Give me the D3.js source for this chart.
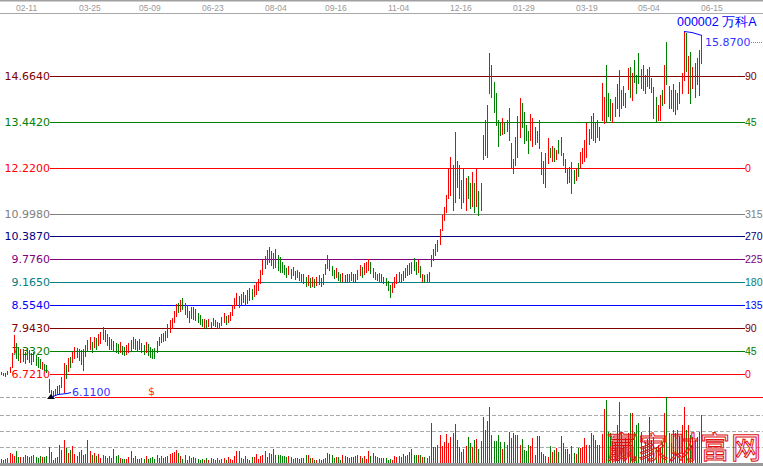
<!DOCTYPE html>
<html><head><meta charset="utf-8">
<script src="https://cdn.jsdelivr.net/npm/d3@7"></script>
<style>body{margin:0;background:#fff;overflow:hidden}svg{display:block}</style>
</head><body>
<svg id="c" width="763" height="466"></svg>
<script>
// ---- data ----
const high=[
6.78,6.76,6.75,6.80,6.92,7.28,7.76,7.55,7.45,7.40,
7.38,7.30,7.42,7.35,7.28,7.32,7.22,7.18,7.12,7.05,
7.00,6.95,6.58,6.30,6.26,6.32,6.40,6.42,6.64,7.02,
6.95,7.15,7.18,7.30,7.45,7.42,7.40,7.35,7.38,7.50,
7.62,7.70,7.58,7.72,7.68,7.78,7.85,7.98,7.90,7.80,
7.72,7.66,7.60,7.55,7.52,7.58,7.48,7.45,7.50,7.55,
7.62,7.70,7.65,7.60,7.66,7.55,7.50,7.58,7.52,7.45,
7.40,7.42,7.60,7.72,7.78,7.82,7.88,8.05,8.15,8.22,
8.40,8.58,8.62,8.70,8.74,8.62,8.55,8.40,8.52,8.50,
8.45,8.35,8.30,8.20,8.18,8.15,8.20,8.12,8.22,8.16,
8.10,8.08,8.25,8.35,8.28,8.30,8.38,8.55,8.75,8.88,
8.80,8.85,8.90,8.82,8.95,9.02,8.98,9.10,9.18,9.25,
9.50,9.76,9.88,10.02,10.11,10.00,9.95,10.05,9.90,9.85,
9.70,9.62,9.55,9.60,9.52,9.58,9.48,9.50,9.45,9.40,
9.38,9.32,9.35,9.28,9.30,9.25,9.30,9.35,9.28,9.38,
9.65,9.89,9.80,9.60,9.50,9.55,9.45,9.40,9.42,9.35,
9.40,9.38,9.45,9.40,9.38,9.50,9.62,9.58,9.68,9.72,
9.79,9.70,9.55,9.45,9.40,9.42,9.38,9.32,9.28,9.20,
9.10,9.15,9.30,9.38,9.45,9.40,9.48,9.55,9.62,9.68,
9.72,9.81,9.70,9.75,9.60,9.40,9.35,9.38,9.45,9.90,
10.05,10.20,10.29,10.60,10.95,11.17,11.50,12.20,12.50,12.30,
13.17,12.40,12.30,11.90,12.20,11.95,12.00,11.80,12.10,11.80,
12.20,11.60,11.80,13.10,13.50,13.89,15.28,14.95,14.50,14.20,
13.50,13.40,13.55,13.45,13.50,13.81,12.88,12.45,13.05,13.60,
14.08,13.95,13.70,13.35,13.20,13.65,13.55,13.30,13.20,13.49,
12.65,12.40,12.61,13.00,12.75,12.80,12.75,12.70,12.95,13.04,
12.60,12.45,12.20,12.25,12.37,12.15,12.20,12.35,12.65,12.75,
12.95,13.40,13.25,13.60,13.68,13.40,13.50,13.30,14.48,14.10,
14.95,14.20,14.05,13.95,14.10,14.45,14.82,14.30,14.40,14.20,
14.88,14.90,14.75,15.09,14.70,15.28,14.85,14.95,14.70,14.85,
14.90,14.60,14.37,14.10,13.90,14.15,14.30,14.95,15.57,14.40,
14.30,14.45,14.30,14.20,14.50,14.75,15.87,15.81,15.20,15.30,
14.90,15.00,15.15,15.36,15.76];
const low=[
6.72,6.70,6.68,6.72,6.78,6.90,7.30,7.15,7.10,7.05,
7.08,7.02,7.12,7.05,7.00,7.06,6.95,6.92,6.88,6.85,
6.82,6.78,6.25,6.11,6.14,6.16,6.20,6.22,6.38,6.24,
6.62,6.80,6.90,7.05,7.15,7.18,7.10,6.98,6.83,7.20,
7.35,7.40,7.32,7.45,7.40,7.50,7.55,7.65,7.60,7.50,
7.40,7.38,7.35,7.30,7.28,7.30,7.25,7.22,7.26,7.30,
7.35,7.42,7.38,7.35,7.40,7.30,7.26,7.30,7.22,7.18,
7.15,7.16,7.32,7.50,7.58,7.60,7.62,7.70,7.85,7.95,
8.10,8.28,8.38,8.40,8.45,8.32,8.25,8.12,8.22,8.20,
8.15,8.10,8.05,8.00,7.98,7.96,8.00,7.98,8.02,7.99,
7.95,7.94,8.02,8.10,8.06,8.10,8.15,8.30,8.48,8.55,
8.52,8.60,8.65,8.55,8.62,8.70,8.72,8.80,8.85,8.95,
9.15,9.40,9.55,9.65,9.70,9.62,9.55,9.58,9.50,9.44,
9.45,9.40,9.30,9.38,9.28,9.35,9.25,9.30,9.22,9.20,
9.15,9.08,9.10,9.05,9.08,9.04,9.10,9.12,9.08,9.12,
9.38,9.55,9.50,9.35,9.28,9.30,9.22,9.18,9.20,9.17,
9.18,9.20,9.22,9.20,9.18,9.25,9.35,9.32,9.40,9.45,
9.50,9.42,9.32,9.25,9.22,9.20,9.18,9.15,9.10,8.95,
8.78,8.90,9.05,9.15,9.20,9.18,9.22,9.30,9.35,9.38,
9.42,9.50,9.40,9.45,9.31,9.20,9.17,9.18,9.20,9.60,
9.76,9.90,10.00,10.20,10.55,10.83,11.05,11.40,11.50,11.10,
11.30,11.70,11.40,11.15,11.30,11.10,11.40,11.15,11.20,11.05,
11.20,10.96,11.10,12.45,12.55,12.50,14.21,14.10,13.70,13.35,
12.80,13.10,13.12,13.15,13.20,12.96,12.24,12.08,12.30,12.50,
13.04,13.30,12.88,12.95,12.61,12.95,12.80,12.85,12.90,12.75,
12.05,11.80,11.71,12.35,12.50,12.40,12.40,12.45,12.60,12.55,
12.30,12.10,11.80,11.85,11.55,11.80,11.88,12.00,12.20,12.35,
12.40,12.50,12.85,13.00,12.95,12.90,13.05,12.95,13.49,13.41,
13.45,13.60,13.50,13.45,13.60,13.80,13.60,13.80,13.90,13.85,
14.32,14.10,14.02,14.50,14.21,14.48,14.35,14.30,14.21,14.40,
14.35,14.25,13.55,13.44,13.50,13.50,13.90,13.95,14.45,13.80,
13.80,13.72,13.66,13.78,13.95,14.20,14.56,14.80,14.20,13.95,
14.35,14.10,14.45,14.16,15.01];
// 1 = up day (red), 0 = down day (green)
const upDay=[
0,1,0,1,1,1,1,0,0,1, 0,0,1,0,0,1,0,0,0,1, 0,0,0,0,1,1,0,0,0,1, 0,1,0,1,1,0,0,0,1,1,
1,1,0,1,0,1,1,1,0,0, 0,0,1,0,0,1,0,0,1,1, 1,1,0,0,1,0,0,1,0,0, 0,0,1,1,1,0,1,1,1,1,
1,1,0,1,0,0,0,0,1,0, 1,0,0,0,1,0,1,0,1,0, 1,0,1,1,0,1,1,1,1,1, 0,1,0,0,1,1,0,1,1,1,
1,1,1,1,1,0,1,0,0,0, 0,0,0,1,0,1,0,1,0,0, 0,0,1,0,1,0,1,1,0,1, 1,1,0,0,0,1,0,0,1,0,
0,1,1,0,0,1,1,0,1,1, 1,0,0,0,0,1,0,0,0,0, 0,1,1,1,1,0,1,1,1,0, 1,0,0,1,0,1,0,1,1,1,
1,1,0,1,1,1,1,1,1,0, 0,1,0,0,1,1,0,0,1,0, 1,0,1,1,1,1,1,0,0,0, 0,0,1,0,1,1,0,1,1,1,
1,0,0,0,0,1,1,1,0,0, 1,0,1,1,0,1,0,1,0,0, 0,0,0,1,1,0,1,0,1,1, 1,1,0,1,1,0,1,0,1,1,
0,0,0,1,1,1,1,0,1,0, 1,0,1,0,0,0,1,0,0,1, 0,1,0,0,1,1,0,1,0,1, 1,0,1,1,0,1,1,0,1,0,
1,0,1,0,1];
const volume=[
4,3,4,5,10,9,7,12,6,6, 6,8,7,6,7,8,6,5,7,6, 6,7,16,11,3,5,6,18,13,23,
15,10,13,17,9,7,11,13,8,9, 23,12,8,10,7,9,5,8,7,5, 7,5,14,7,8,5,4,4,4,6,
12,5,7,4,4,5,4,7,4,5, 6,4,8,5,7,5,6,7,9,10, 11,13,10,7,4,8,3,7,5,6,
5,4,3,4,3,5,3,5,4,3, 5,3,4,5,3,6,4,3,7,12, 12,5,4,7,4,3,6,6,9,4,
7,8,12,6,10,9,14,8,8,8, 7,7,6,7,6,4,5,5,4,5, 5,8,8,5,5,3,3,4,3,4,
5,10,9,8,5,6,6,3,8,7, 6,5,6,6,7,8,7,5,7,4, 12,7,10,7,6,5,5,5,5,3,
4,3,7,6,7,6,9,7,8,11, 14,8,8,8,8,6,6,5,7,40, 16,16,18,28,17,21,29,20,26,30,
39,23,16,11,14,17,26,20,16,23, 24,14,22,46,33,42,56,28,22,22, 28,21,14,21,18,31,25,30,28,28,
18,24,13,12,18,17,25,8,27,27, 11,9,7,6,17,11,13,15,11,27, 20,14,14,9,17,10,9,15,15,16,
25,18,18,30,28,23,18,18,29,54, 63,31,30,22,21,38,61,31,18,25, 30,50,50,31,38,40,31,16,21,24,
46,23,26,16,18,16,21,50,66,30, 20,33,30,33,27,38,56,33,38,28, 26,23,26,31,48];
const tickIndex=[7,36,64,93,122,150,179,208,237,266,295,324];
const tickLabels=["02-11","03-25","05-09","06-23","08-04","09-16","11-04","12-16","01-29","03-19","05-04","06-15"];
const levelPrices=[14.664,13.442,12.22,10.998,10.387,9.776,9.165,8.554,7.943,7.332,6.721];
const levelAngles=["90","45","0","315","270","225","180","135","90","45","0"];
const levelColors=["#800000","#008000","#ff0000","#808080","#000080","#800080","#008080","#0000ff","#800000","#008000","#ff0000"];
const lowPrice=6.11, highPrice=15.87;
const volGrid=[16,32,48];
const stockTitle="000002 万科A";

// ---- drawing ----
const svg=d3.select("#c");
const n=high.length;
const x=d3.scaleLinear().domain([0,n-1]).range([1,701]);
const y=d3.scaleLinear().domain([6.11,14.664]).range([397,76]);
const yv=d3.scaleLinear().domain([0,66]).range([463,397]);
const px=i=>Math.round(x(i))+0.5;
const RED="#ff0000",GREEN="#008000";

// top date axis
svg.append("line").attr("x1",0).attr("x2",763).attr("y1",0.5).attr("y2",0.5).attr("stroke","#a0a0a0").attr("stroke-width",2);
svg.append("line").attr("x1",0).attr("x2",763).attr("y1",13.5).attr("y2",13.5).attr("stroke","#a8a8a8");
svg.selectAll("text.tick").data(tickIndex).join("text").attr("class","tick")
  .attr("x",d=>Math.round(x(d))).attr("y",10.5)
  .attr("font-family","Liberation Sans, Arial, sans-serif").attr("font-size","8.5px").attr("fill","#999")
  .text((d,i)=>tickLabels[i]);

// volume grid
svg.selectAll("line.vg").data(volGrid).join("line").attr("class","vg")
  .attr("x1",0).attr("x2",763).attr("y1",d=>Math.round(yv(d))+0.5).attr("y2",d=>Math.round(yv(d))+0.5)
  .attr("stroke","#aaa").attr("stroke-dasharray","4,2");
svg.append("rect").attr("x",0).attr("y",463).attr("width",763).attr("height",3).attr("fill","#999");

// level lines
const lv=svg.append("g");
levelPrices.forEach((p,k)=>{
  const yy=Math.round(y(p))+0.5;
  lv.append("line").attr("x1",50).attr("x2",745).attr("y1",yy).attr("y2",yy).attr("stroke",levelColors[k]);
  lv.append("text").attr("x",50).attr("y",yy).attr("dy","0.36em").attr("text-anchor","end")
    .attr("font-family","DejaVu Sans, Verdana, sans-serif").attr("font-size","11px").attr("fill",levelColors[k])
    .text(p.toFixed(4));
  lv.append("text").attr("x",745).attr("y",yy).attr("dy","0.36em")
    .attr("font-family","Liberation Sans, Arial, sans-serif").attr("font-size","10.5px").attr("fill",levelColors[k])
    .text(levelAngles[k]);
});
// base line at the low
const yb=Math.round(y(lowPrice))+0.5;
svg.append("line").attr("x1",0).attr("x2",50).attr("y1",yb).attr("y2",yb).attr("stroke","#aaa").attr("stroke-dasharray","4,2");
svg.append("line").attr("x1",55).attr("x2",763).attr("y1",yb).attr("y2",yb).attr("stroke","#ff0000");

// price bars
svg.append("g").selectAll("line").data(d3.range(n)).join("line")
  .attr("x1",px).attr("x2",px)
  .attr("y1",i=>Math.round(y(high[i]))).attr("y2",i=>Math.round(y(low[i]))+1)
  .attr("stroke",i=>upDay[i]?RED:GREEN).attr("stroke-width",1);

// volume bars
svg.append("g").selectAll("line").data(d3.range(n)).join("line")
  .attr("x1",px).attr("x2",px)
  .attr("y1",i=>Math.round(yv(volume[i]))).attr("y2",463)
  .attr("stroke",i=>upDay[i]?RED:GREEN).attr("stroke-width",1);

// low marker
const iLow=d3.minIndex(low), iHigh=d3.maxIndex(high);
const lx=Math.round(x(iLow));
svg.append("path").attr("d",`M${lx-4},${yb+1.5}L${lx+4},${yb+1.5}L${lx},${yb-3.5}Z`).attr("fill","#000");
svg.append("polyline").attr("points",`${lx+1},${yb-0.5} ${lx+7},${yb-3} ${lx+16},${yb-4} ${lx+20},${yb-5}`)
  .attr("fill","none").attr("stroke","#0000ff");
svg.append("text").attr("x",lx+21).attr("y",yb-5).attr("dy","0.36em")
  .attr("font-family","DejaVu Sans, Verdana, sans-serif").attr("font-size","11px").attr("fill","#3333ff").text(lowPrice.toFixed(4));
svg.append("text").attr("x",148).attr("y",yb-6).attr("dy","0.36em")
  .attr("font-family","DejaVu Sans, sans-serif").attr("font-size","11px").attr("fill","#ff3300").text("$");

// high marker
const hx=Math.round(x(iHigh)), hy=Math.round(y(highPrice))+0.5;
svg.append("polyline").attr("points",`${hx},${hy} ${hx+8},${hy+1} ${hx+18},${hy+4}`)
  .attr("fill","none").attr("stroke","#0000ff");
svg.append("text").attr("x",705).attr("y",42).attr("dy","0.36em")
  .attr("font-family","DejaVu Sans, Verdana, sans-serif").attr("font-size","11px").attr("fill","#3333ff").text(highPrice.toFixed(4));
svg.append("line").attr("x1",749).attr("x2",763).attr("y1",42.5).attr("y2",42.5).attr("stroke","#888").attr("stroke-dasharray","1,1");

// title
svg.append("text").attr("x",677).attr("y",26)
  .attr("font-family","Liberation Sans, Arial, sans-serif").attr("font-size","12.5px").attr("fill","#0000ff").text(stockTitle);

// watermark
svg.append("text").attr("x",607).attr("y",458)
  .attr("font-family","Noto Sans CJK SC, sans-serif").attr("font-size","30px").attr("letter-spacing","1px")
  .attr("fill","none").attr("stroke","#e01010").attr("stroke-width",1).text("赢家财富网");
</script>
</body></html>
